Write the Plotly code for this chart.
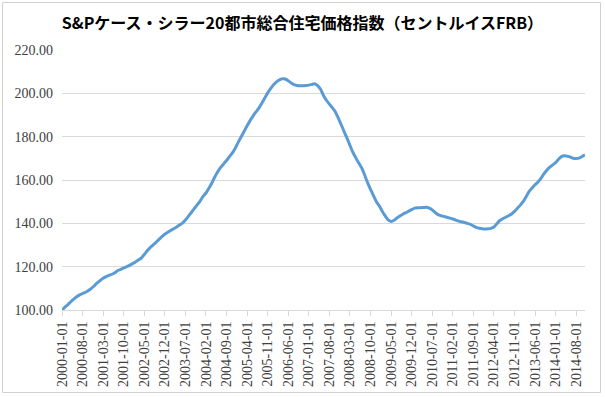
import plotly.graph_objects as go
import pandas as pd

title_text = "S&Pケース・シラー20都市総合住宅価格指数（セントルイスFRB）"

dates = [d.strftime("%Y-%m-%d") for d in pd.date_range("2000-01-01", periods=179, freq="MS")]

values = [
    100.0, 101.3, 102.5, 103.8, 105.0, 106.1, 107.0, 107.6, 108.2, 109.0,
    110.0, 111.2, 112.5, 113.6, 114.6, 115.4, 116.0, 116.5, 117.2, 118.2,
    118.8, 119.4, 120.0, 120.6, 121.4, 122.2, 123.1, 124.0, 125.6, 127.3,
    128.8, 130.0, 131.2, 132.6, 133.9, 135.0, 135.9, 136.7, 137.5, 138.3,
    139.2, 140.1, 141.5, 143.2, 145.0, 146.8, 148.5, 150.3, 152.4, 154.0,
    156.2, 158.6, 161.4, 163.8, 165.8, 167.4, 169.0, 170.8, 172.5, 174.8,
    177.5, 180.0, 182.5, 185.0, 187.4, 189.5, 191.4, 193.2, 195.4, 197.8,
    200.2, 202.2, 204.0, 205.3, 206.2, 206.7, 206.6, 205.8, 204.8, 204.0,
    203.6, 203.5, 203.5, 203.6, 203.8, 204.1, 204.4, 203.6, 201.9, 199.0,
    196.8, 195.0, 193.4, 191.5, 188.7, 185.6, 182.4, 179.3, 176.0, 172.8,
    170.2, 167.8, 165.6, 162.3, 158.8, 155.7, 152.8, 150.0, 148.0, 145.6,
    143.4, 141.6, 140.9, 141.4, 142.5, 143.4, 144.2, 144.9, 145.6, 146.3,
    147.0, 147.2, 147.2, 147.3, 147.4, 147.0, 146.2, 145.0, 144.0, 143.5,
    143.2, 142.8, 142.4, 142.0, 141.5, 141.0, 140.7, 140.4, 140.0, 139.5,
    138.8, 138.1, 137.7, 137.5, 137.4, 137.5, 137.7, 138.3, 139.8, 141.3,
    142.1, 142.8, 143.5, 144.3, 145.5, 147.0, 148.4, 150.1, 152.4, 154.7,
    156.3, 157.8, 159.1, 160.8, 162.8, 164.5, 165.9, 167.0, 168.0, 169.6,
    170.8, 171.2, 171.0, 170.6, 170.0, 169.9, 170.1, 170.8, 171.6,
]

tick_dates = dates[::7]
y_ticks = [100, 120, 140, 160, 180, 200, 220]
y_tick_labels = [f"{v:.2f}" for v in y_ticks]

fig = go.Figure()
fig.add_trace(go.Scatter(
    x=dates, y=values, mode="lines",
    line=dict(color="#5B9BD5", width=3, shape="spline", smoothing=0.6),
    hoverinfo="x+y", showlegend=False,
))

L, R, T, B = 62, 20, 50, 87
W, H = 605, 397
pw, ph = W - L - R, H - T - B

def px_x(x):
    return (x - L) / pw

def px_y(y):
    return (H - B - y) / ph

fig.update_layout(
    width=W, height=H,
    margin=dict(l=L, r=R, t=T, b=B, autoexpand=False),
    paper_bgcolor="white", plot_bgcolor="white",
    title=dict(text="<b>" + title_text + "</b>", x=0.5, xanchor="center",
               y=1 - 23 / H, yanchor="middle",
               font=dict(family="Noto Sans CJK JP", size=16, color="#000000")),
    font=dict(family="Liberation Serif", size=14, color="#404040"),
    xaxis=dict(
        type="category", range=[0, len(dates) - 1], automargin=False,
        tickmode="array", tickvals=tick_dates, ticktext=tick_dates,
        tickangle=-90, showgrid=False, showline=True, linecolor="#D9D9D9",
        linewidth=1, ticks="outside", ticklen=5, tickcolor="#D9D9D9",
        tickfont=dict(family="Liberation Serif", size=14, color="#404040"),
        zeroline=False,
    ),
    yaxis=dict(
        range=[100, 220], tickmode="array", tickvals=y_ticks, ticktext=y_tick_labels,
        showgrid=True, gridcolor="#D9D9D9", gridwidth=1, showline=False,
        zeroline=False, ticks="", ticklabelstandoff=8, automargin=False,
        tickfont=dict(family="Liberation Serif", size=14, color="#404040"),
    ),
    shapes=[dict(
        type="rect", xref="paper", yref="paper",
        x0=px_x(2.5), x1=px_x(600.5), y0=px_y(392.5), y1=px_y(2.5),
        line=dict(color="#D0D0D0", width=1), fillcolor="rgba(0,0,0,0)", layer="above",
    )],
)

fig.write_html("out.html", config={"displayModeBar": False},
               post_script="document.body.style.margin='0';")
